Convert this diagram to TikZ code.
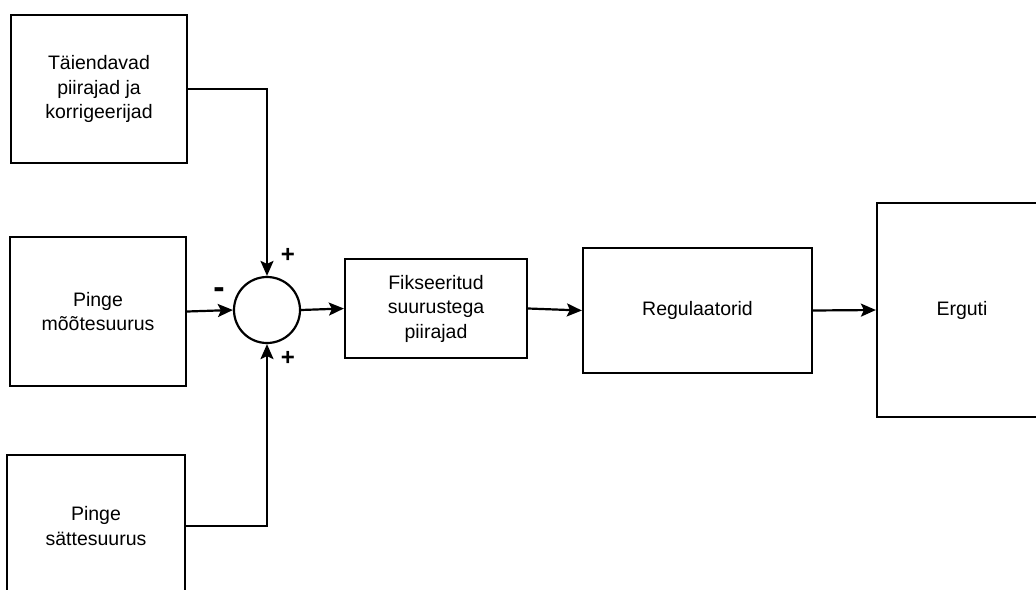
\documentclass[tikz,border=0pt]{standalone}
\usepackage{fontspec}
\setmainfont{Liberation Sans}
\usetikzlibrary{arrows.meta}
\begin{document}
\begin{tikzpicture}[x=1pt,y=-1pt,
  every node/.style={font=\fontsize{19.5}{24.5}\selectfont},
  block/.style={draw,line width=2.2pt,align=center,inner sep=0pt},
  link/.style={line width=2.2pt,-{Stealth[length=15pt,width=13pt,inset=3pt]}},
  sign/.style={font=\fontsize{24}{24}\selectfont\bfseries,inner sep=0pt}]
\useasboundingbox (0,0) rectangle (1036,589);
% input blocks on the left
\node[block,minimum width=176,minimum height=148] (extra) at (99,89) {Täiendavad\\piirajad ja\\korrigeerijad};
\node[block,minimum width=176,minimum height=149] (meas) at (98,311.5) {Pinge\\mõõtesuurus};
\node[block,minimum width=178,minimum height=142] (ref) at (96,526) {Pinge\\sättesuurus};
% summing junction
\node[draw,circle,line width=2.2pt,minimum size=66,inner sep=0pt] (sum) at (267,310) {};
% forward path
\node[block,minimum width=182,minimum height=99] (limit) at (436,308.5) {Fikseeritud\\suurustega\\piirajad};
\node[block,minimum width=229,minimum height=125] (reg) at (697.5,310.5) {Regulaatorid};
\node[block,minimum width=170,minimum height=214] (exc) at (962,310) {Erguti};
% signs at the junction inputs
\node[sign] (plusTop) at (288,255) {+};
\node[sign] (plusBot) at (288,358) {+};
\node[sign,font=\fontsize{34}{34}\selectfont\bfseries] (minus) at (219,293) {-};
% connectors
\draw[link] (extra.east) -| (sum.north);
\draw[link] (meas.east) -- (sum.west);
\draw[link] (ref.east) -| (sum.south);
\draw[link] (sum.east) -- (limit.west);
\draw[link] (limit.east) -- (reg.west);
\draw[link] (reg.east) -- (exc.west);
\end{tikzpicture}
\end{document}
